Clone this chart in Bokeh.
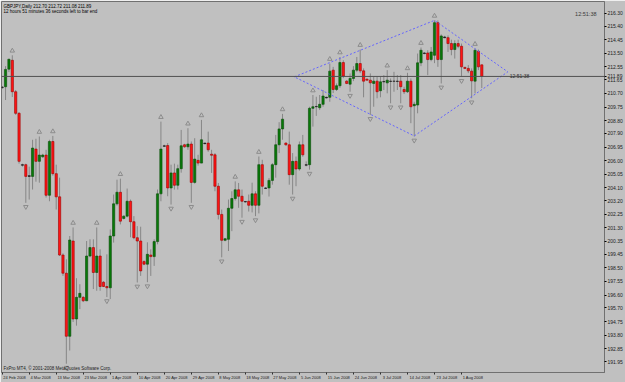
from bokeh.plotting import figure
from bokeh.models import (Range1d, FixedTicker, NumeralTickFormatter, Span, Label,
                          ColumnDataSource, LinearAxis)
from bokeh.embed import file_html
from bokeh.resources import INLINE

# ---- data (GBPJPY daily) ----
opens = [211.15, 211.17, 212.40, 213.02, 210.82, 209.31, 205.72, 205.72, 204.90, 204.90,
         206.81, 205.95, 206.27, 206.39, 203.58, 207.34, 205.09, 203.47, 199.40, 198.13,
         193.72, 200.38, 194.93, 196.44, 196.44, 196.20, 199.33, 199.92, 198.18, 199.33,
         197.50, 197.20, 197.11, 200.73, 202.98, 203.79, 201.96, 202.12, 203.16, 201.73,
         200.61, 200.38, 198.94, 198.76, 199.40, 199.29, 200.34, 203.68, 207.04, 207.06,
         204.09, 205.14, 204.28, 205.44, 207.11, 206.97, 207.16, 204.48, 206.02, 205.83,
         207.23, 207.23, 206.45, 206.41, 204.21, 202.24, 200.43, 200.50, 202.67, 203.35,
         203.96, 203.51, 203.14, 203.16, 202.88, 203.68, 202.88, 205.72, 204.09, 204.09,
         204.62, 205.72, 207.11, 208.22, 207.23, 207.11, 205.02, 205.95, 205.42, 207.11,
         205.72, 205.72, 209.66, 209.77, 209.70, 209.94, 210.43, 210.43, 212.33, 210.98,
         211.24, 212.86, 211.56, 211.35, 211.75, 212.33, 212.79, 212.28, 211.70, 211.63,
         211.40, 211.56, 210.89, 211.51, 211.44, 211.56, 211.56, 211.56, 211.56, 210.98,
         210.82, 211.56, 209.84, 209.89, 212.84, 213.53, 213.53, 213.07, 213.37, 215.65,
         213.07, 214.65, 214.60, 214.19, 213.77, 214.19, 214.00, 212.52, 212.45, 212.26,
         211.56, 213.65, 212.70]
highs = [211.21, 212.61, 213.13, 213.37, 210.94, 209.40, 205.79, 205.79, 205.58, 207.46,
         207.53, 207.69, 206.48, 206.76, 207.46, 207.73, 205.72, 204.81, 199.52, 199.10,
         200.73, 201.33, 197.78, 197.36, 196.53, 200.38, 200.50, 200.50, 201.33, 199.80,
         197.57, 199.45, 201.19, 203.63, 204.67, 204.74, 202.17, 204.05, 203.28, 202.12,
         201.42, 201.38, 199.03, 200.29, 199.80, 200.50, 203.98, 208.73, 207.11, 207.23,
         205.72, 205.79, 205.72, 208.15, 207.18, 208.27, 207.34, 207.57, 206.41, 208.85,
         207.25, 208.03, 206.76, 206.53, 204.44, 202.58, 200.60, 203.28, 203.86, 204.55,
         204.44, 203.98, 203.18, 203.63, 204.46, 203.86, 206.29, 206.06, 204.15, 204.79,
         205.83, 207.80, 208.69, 209.27, 207.28, 208.03, 206.53, 206.29, 207.34, 207.80,
         205.95, 209.77, 210.59, 210.47, 210.59, 210.94, 210.48, 212.79, 212.56, 211.40,
         213.25, 213.02, 211.63, 212.10, 212.61, 213.25, 213.77, 212.45, 211.74, 212.10,
         211.86, 211.86, 211.86, 211.98, 212.33, 211.75, 212.21, 211.98, 211.98, 211.17,
         212.14, 211.75, 210.12, 213.49, 213.91, 213.60, 213.72, 213.95, 215.81, 215.81,
         214.83, 214.73, 214.76, 214.46, 214.42, 214.46, 214.19, 212.57, 212.68, 212.45,
         213.84, 213.77, 212.72]
lows = [211.01, 210.24, 212.19, 210.45, 209.20, 205.79, 205.58, 203.05, 203.28, 203.98,
        204.53, 204.46, 206.20, 203.42, 203.16, 204.95, 202.58, 199.33, 197.94, 191.80,
        192.72, 194.72, 194.46, 195.62, 196.11, 196.18, 199.24, 197.02, 196.90, 196.90,
        197.16, 196.46, 196.32, 200.27, 202.86, 201.54, 201.89, 202.03, 200.64, 200.50,
        197.48, 197.94, 198.69, 197.50, 197.94, 198.64, 200.15, 203.16, 206.97, 203.51,
        202.93, 203.98, 203.98, 205.16, 206.90, 206.76, 203.05, 204.39, 205.65, 205.82,
        207.14, 206.62, 205.14, 203.86, 201.89, 199.24, 200.36, 199.68, 201.07, 203.21,
        202.70, 202.01, 203.07, 202.44, 202.38, 202.12, 202.31, 203.63, 204.01, 203.49,
        204.32, 204.81, 206.53, 207.46, 207.04, 204.32, 203.63, 204.21, 205.30, 206.27,
        205.60, 205.37, 208.38, 209.13, 209.54, 209.77, 210.34, 210.12, 210.73, 210.87,
        211.08, 211.77, 211.35, 210.82, 211.56, 212.19, 212.12, 210.43, 211.60, 209.20,
        209.77, 210.36, 210.43, 210.94, 210.71, 210.01, 210.82, 210.94, 210.01, 210.66,
        210.73, 208.62, 207.69, 209.31, 212.61, 213.44, 211.98, 212.95, 212.82, 212.56,
        211.40, 214.56, 213.60, 213.37, 213.14, 213.86, 211.86, 212.40, 212.12, 210.36,
        210.71, 212.33, 211.08]
closes = [211.11, 212.38, 213.09, 210.82, 209.31, 205.95, 205.68, 204.90, 204.95, 206.88,
          205.95, 206.39, 206.39, 203.58, 207.34, 205.09, 203.47, 199.40, 198.13, 193.72,
          200.45, 194.93, 196.44, 196.72, 196.20, 199.33, 199.92, 198.18, 199.33, 197.20,
          197.20, 197.11, 200.73, 202.98, 203.79, 201.77, 202.12, 203.16, 201.73, 200.61,
          200.38, 198.29, 198.76, 199.45, 199.29, 200.34, 203.68, 206.81, 207.00, 204.09,
          205.14, 204.28, 205.44, 207.04, 206.97, 207.16, 204.48, 206.11, 205.83, 207.46,
          207.19, 206.76, 206.38, 204.21, 202.24, 200.43, 200.54, 202.67, 203.35, 203.96,
          203.51, 203.16, 203.11, 202.88, 203.68, 202.88, 205.72, 204.21, 204.06, 204.62,
          205.72, 207.11, 208.22, 208.90, 207.11, 205.02, 205.95, 205.42, 207.11, 206.41,
          205.68, 209.66, 209.77, 209.79, 209.94, 210.52, 210.39, 212.26, 210.98, 211.24,
          212.86, 211.91, 211.40, 211.75, 212.33, 212.79, 212.28, 211.56, 211.63, 211.44,
          211.56, 210.82, 211.51, 211.54, 211.63, 211.54, 211.55, 211.54, 211.17, 210.82,
          211.56, 209.77, 209.94, 212.84, 213.72, 213.49, 213.07, 213.60, 215.65, 213.07,
          214.72, 214.60, 214.19, 213.77, 214.19, 214.00, 212.56, 212.45, 212.28, 211.58,
          213.72, 212.56, 211.89]

up_fractals = [3, 11, 15, 21, 28, 35, 47, 55, 59, 69, 76, 83, 92, 97, 100, 106, 114, 120, 124, 128, 140]
down_fractals = [7, 19, 31, 40, 43, 50, 56, 65, 71, 75, 86, 91, 103, 109, 115, 118, 122, 130, 136, 139]

# diamond pattern trendline anchors (bar index, price)
diamond_bar = [86.5, 128, 149.7, 122, 86.5]
diamond_price = [211.86, 215.81, 212.21, 207.73, 211.86]

price_ticks = [216.30, 215.40, 214.45, 213.50, 212.55, 211.65, 210.70, 209.75, 208.80,
               207.90, 206.95, 206.00, 205.05, 204.10, 203.20, 202.25, 201.30, 200.35,
               199.45, 198.50, 197.55, 196.60, 195.70, 194.75, 193.80, 192.85, 191.95]
date_tick_bars = [0, 8, 16, 24, 32, 40, 48, 56, 64, 72, 80, 88, 96, 104, 112, 120, 128, 136]
date_labels = ["24 Feb 2008", "4 Mar 2008", "13 Mar 2008", "23 Mar 2008", "1 Apr 2008",
               "10 Apr 2008", "20 Apr 2008", "29 Apr 2008", "8 May 2008", "18 May 2008",
               "27 May 2008", "5 Jun 2008", "15 Jun 2008", "24 Jun 2008", "3 Jul 2008",
               "14 Jul 2008", "23 Jul 2008", "1 Aug 2008"]
last_price = 211.89
symbol_text = "GBPJPY,Daily  212.70 212.72 211.08 211.89"
timer_text = "12 hours 51 minutes 36 seconds left to bar end"
clock_text = "12:51:38"
copyright_text = "FxPro MT4, \u00a9 2001-2008 MetaQuotes Software Corp."

# ---- figure ----
BG = "#c0c0c0"
px_per_bar = 3.4
frame_w = 625 - 1 - 17
x0 = -0.2
x1 = x0 + frame_w / px_per_bar
y_lo, y_hi = 191.185, 217.13
p = figure(width=625, height=382, output_backend="svg", toolbar_location=None,
           x_range=Range1d(x0, x1), y_range=Range1d(y_lo, y_hi),
           y_axis_location="right",
           min_border_left=1, min_border_top=1, min_border_right=17, min_border_bottom=8)
p.background_fill_color = BG
p.border_fill_color = BG
p.outline_line_color = "#707070"
p.xgrid.visible = False
p.ygrid.visible = False

n = len(opens)
xs = list(range(n))
body_top = [max(o, c) for o, c in zip(opens, closes)]
body_bot = [min(o, c) for o, c in zip(opens, closes)]
fill = []
edge = []
for o, c in zip(opens, closes):
    if abs(o - c) < 0.06:
        fill.append("#1a1a1a"); edge.append("#1a1a1a")
    elif c > o:
        fill.append("#087a08"); edge.append("#0a4a0a")
    else:
        fill.append("#ff1414"); edge.append("#9a0000")
src = ColumnDataSource(dict(x=xs, o=opens, h=highs, l=lows, c=closes,
                            top=body_top, bot=body_bot, fill=fill, edge=edge))
p.segment(x0="x", y0="l", x1="x", y1="h", source=src, line_color="#868686", line_width=1)
p.vbar(x="x", width=0.66, top="top", bottom="bot", source=src,
       fill_color="fill", line_color="edge", line_width=0.6)

# fractals
px_price = (y_hi - y_lo) / 373.0
p.scatter(up_fractals, [highs[i] + 4.5 * px_price for i in up_fractals],
          marker="triangle", size=4.5, fill_color=None, line_color="#8c8c8c", line_width=1)
p.scatter(down_fractals, [lows[i] - 4.0 * px_price for i in down_fractals],
          marker="inverted_triangle", size=4.5, fill_color=None, line_color="#8c8c8c", line_width=1)

# diamond
p.line(diamond_bar, diamond_price, line_color="#6464ff", line_dash="2 2", line_width=1)

# current price line
p.add_layout(Span(location=last_price, dimension="width", line_color="#505050", line_width=1))

# price axis (right), with the current price among the ticks
yax = p.yaxis[0]
yax.ticker = FixedTicker(ticks=price_ticks + [last_price])
yax.formatter = NumeralTickFormatter(format="0.00")
yax.major_label_text_font_size = "5px"
yax.major_label_text_font = "Liberation Sans"
yax.major_label_text_color = "#202020"
yax.major_tick_out = 2
yax.major_tick_in = 0
yax.minor_tick_out = 0
yax.minor_tick_in = 0
yax.major_label_standoff = 1
yax.axis_line_color = "#707070"

# date axis: tick marks at the bars, labels starting right of each tick
xax = p.xaxis[0]
xax.ticker = FixedTicker(ticks=date_tick_bars)
xax.major_label_overrides = {b: "" for b in date_tick_bars}
xax.major_label_text_font_size = "1px"
xax.major_label_standoff = 0
xax.major_tick_out = 2
xax.major_tick_in = 0
xax.minor_tick_out = 0
xax.minor_tick_in = 0
xax.axis_line_color = "#707070"
xax.major_tick_line_color = "#303030"

label_pos = [b + (1.5 + 1.0 * len(s)) / px_per_bar for b, s in zip(date_tick_bars, date_labels)]
lab_ax = LinearAxis(ticker=FixedTicker(ticks=label_pos),
                    major_label_overrides={q: s for q, s in zip(label_pos, date_labels)},
                    major_label_text_font_size="4px", major_label_text_font="Liberation Sans",
                    major_label_text_color="#202020", major_label_standoff=0,
                    major_tick_out=0, major_tick_in=0, minor_tick_out=0, minor_tick_in=0,
                    axis_line_color=None)
p.add_layout(lab_ax, "below")

# texts
p.add_layout(Label(x=x0, y=y_hi, x_offset=2, y_offset=-5, text=symbol_text,
                   text_font_size="4.5px", text_font="Liberation Sans", text_color="#000000",
                   text_baseline="middle"))
p.add_layout(Label(x=x0, y=y_hi, x_offset=2, y_offset=-10, text=timer_text,
                   text_font_size="4.5px", text_font="Liberation Sans", text_color="#000000",
                   text_baseline="middle"))
p.add_layout(Label(x=x1, y=y_hi, x_offset=-8, y_offset=-12,
                   text=clock_text, text_font_size="5.5px", text_font="Liberation Sans",
                   text_color="#3a3a3a", text_align="right", text_baseline="middle"))
p.add_layout(Label(x=x0, y=y_lo, x_offset=2, y_offset=2, text=copyright_text,
                   text_font_size="4.5px", text_font="Liberation Sans", text_color="#202020",
                   text_baseline="bottom"))
p.add_layout(Label(x=diamond_bar[2], y=last_price, x_offset=2, text=clock_text,
                   text_font_size="5px", text_font="Liberation Sans", text_color="#303030",
                   text_baseline="middle"))
p.add_layout(Label(x=frame_w + 2, x_units="screen", y=last_price, level="overlay",
                   text="%.2f" % last_price, text_font_size="5px", text_font="Liberation Sans",
                   text_color="#ffffff", background_fill_color="#000000",
                   text_baseline="middle"))

open("out.html", "w").write(file_html(p, INLINE))
